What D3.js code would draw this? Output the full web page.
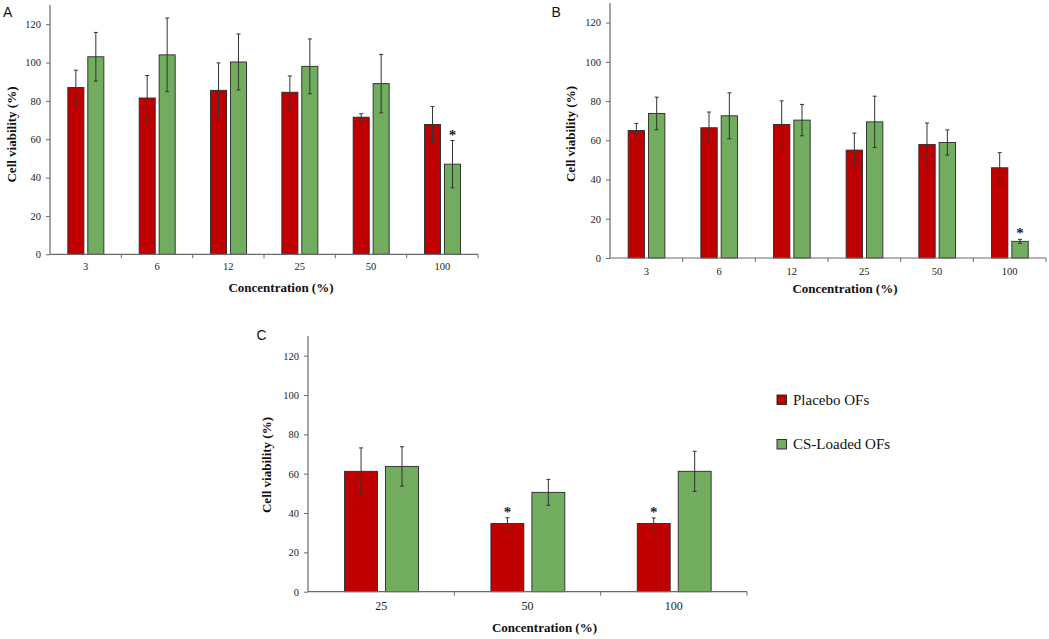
<!DOCTYPE html>
<html>
<head>
<meta charset="utf-8">
<script src="https://cdn.jsdelivr.net/npm/d3@7"></script>
<style>
  html, body { margin: 0; padding: 0; background: #fff; }
  svg { display: block; }
</style>
</head>
<body>
<svg id="chart" width="1049" height="639"></svg>
<script>
// ---------- DATA ----------
const seriesNames = ["Placebo OFs", "CS-Loaded OFs"];
const yTicks = [0, 20, 40, 60, 80, 100, 120];

// Panel A
const categoriesA = ["3", "6", "12", "25", "50", "100"];
const placeboA    = [87, 81.5, 85.5, 84.5, 71.5, 67.7];
const placeboErrA = [9, 11.7, 14.3, 8.5, 1.8, 9.4];
const loadedA     = [103, 104, 100.3, 98, 89, 47];
const loadedErrA  = [12.7, 19.2, 14.6, 14.3, 15.2, 12.3];
const placeboSigA = [false, false, false, false, false, false];
const loadedSigA  = [false, false, false, false, false, true];

// Panel B
const categoriesB = ["3", "6", "12", "25", "50", "100"];
const placeboB    = [65, 66.4, 68.1, 55, 57.9, 46];
const placeboErrB = [3.6, 8, 12, 8.7, 10.9, 7.7];
const loadedB     = [73.7, 72.5, 70.3, 69.4, 58.9, 8.5];
const loadedErrB  = [8.3, 11.7, 8, 13.1, 6.4, 1];
const placeboSigB = [false, false, false, false, false, false];
const loadedSigB  = [false, false, false, false, false, true];

// Panel C
const categoriesC = ["25", "50", "100"];
const placeboC    = [61.2, 34.7, 34.7];
const placeboErrC = [11.9, 2.9, 2.8];
const loadedC     = [63.7, 50.5, 61.2];
const loadedErrC  = [10, 6.6, 10.2];
const placeboSigC = [false, true, true];
const loadedSigC  = [false, false, false];

// ---------- STYLE / LAYOUT ----------
const colors = { "Placebo OFs": "#c00000", "CS-Loaded OFs": "#71ac5f" };
const serif = "'Liberation Serif', 'Times New Roman', serif";
const sans = "'Liberation Sans', Arial, sans-serif";
const axisColor = "#6a6a6a";

const svg = d3.select("#chart");

function panel(cfg) {
  const g = svg.append("g");
  const x = d3.scaleBand().domain(cfg.categories).range([cfg.x0, cfg.x1]).paddingInner(0).paddingOuter(0);
  const bw = x.bandwidth();
  const xs = d3.scaleBand().domain(seriesNames).range([0.25 * bw, 0.755 * bw]).paddingInner(0.196).paddingOuter(0);
  const y = d3.scaleLinear().domain([0, 130]).range([cfg.yZero, cfg.yTop]);

  const rows = [];
  cfg.categories.forEach((c, i) => {
    rows.push({ cat: c, s: seriesNames[0], v: cfg.placebo[i], e: cfg.placeboErr[i], sig: cfg.placeboSig[i] });
    rows.push({ cat: c, s: seriesNames[1], v: cfg.loaded[i], e: cfg.loadedErr[i], sig: cfg.loadedSig[i] });
  });

  // bars
  g.selectAll("rect.bar").data(rows).enter().append("rect")
    .attr("class", "bar")
    .attr("x", d => x(d.cat) + xs(d.s))
    .attr("width", xs.bandwidth())
    .attr("y", d => y(d.v))
    .attr("height", d => y(0) - y(d.v))
    .attr("fill", d => colors[d.s])
    .attr("stroke", "#2a2a2a")
    .attr("stroke-width", 0.9);

  // error bars
  const cx = d => x(d.cat) + xs(d.s) + xs.bandwidth() / 2;
  const eb = g.selectAll("g.err").data(rows).enter().append("g").attr("class", "err")
    .attr("stroke", "#333").attr("stroke-width", 1);
  eb.append("line").attr("x1", cx).attr("x2", cx).attr("y1", d => y(d.v + d.e)).attr("y2", d => y(d.v - d.e));
  eb.append("line").attr("x1", d => cx(d) - 2).attr("x2", d => cx(d) + 2).attr("y1", d => y(d.v + d.e)).attr("y2", d => y(d.v + d.e));
  eb.append("line").attr("x1", d => cx(d) - 2).attr("x2", d => cx(d) + 2).attr("y1", d => y(d.v - d.e)).attr("y2", d => y(d.v - d.e));

  // significance stars
  g.selectAll("text.star").data(rows.filter(d => d.sig)).enter().append("text")
    .attr("class", "star")
    .attr("x", cx)
    .attr("y", d => y(d.v + d.e) - 1)
    .attr("text-anchor", "middle")
    .attr("font-family", serif).attr("font-weight", "bold").attr("font-size", 15)
    .attr("fill", "#222")
    .text("*");

  // y axis
  const yAxis = d3.axisLeft(y).tickValues(yTicks).tickSize(4).tickPadding(5);
  const ya = g.append("g").attr("transform", `translate(${cfg.x0},0)`).call(yAxis)
    .attr("font-family", serif);
  ya.select(".domain").attr("stroke", axisColor).attr("stroke-width", 1.2).attr("d", `M0,${cfg.yTop}V${cfg.yZero}`);
  ya.selectAll(".tick line").attr("stroke", axisColor);
  ya.selectAll(".tick text").attr("font-family", serif).attr("font-size", 10.5).attr("fill", "#222");

  // x axis
  const xa = g.append("g").attr("transform", `translate(0,${cfg.yZero})`);
  xa.append("line").attr("x1", cfg.x0).attr("x2", cfg.x1).attr("y1", 0).attr("y2", 0)
    .attr("stroke", axisColor).attr("stroke-width", 1.2);
  const bounds = cfg.categories.map(c => x(c)).concat([x(cfg.categories[cfg.categories.length - 1]) + bw]);
  xa.selectAll("line.xt").data(bounds.slice(1)).enter().append("line").attr("class", "xt")
    .attr("x1", d => d).attr("x2", d => d).attr("y1", 0).attr("y2", 4)
    .attr("stroke", axisColor);
  xa.selectAll("text.xl").data(cfg.categories).enter().append("text").attr("class", "xl")
    .attr("x", d => x(d) + bw / 2).attr("y", cfg.xLabelDy)
    .attr("text-anchor", "middle")
    .attr("font-family", serif).attr("font-size", cfg.xFont).attr("fill", "#222")
    .text(d => d);

  // titles
  g.append("text")
    .attr("x", (cfg.x0 + cfg.x1) / 2 + 17).attr("y", cfg.yZero + cfg.xTitleDy)
    .attr("text-anchor", "middle")
    .attr("font-family", serif).attr("font-weight", "bold").attr("font-size", 13).attr("fill", "#111")
    .text("Concentration (%)");
  g.append("text")
    .attr("transform", `translate(${cfg.yTitleX},${cfg.yTitleY}) rotate(-90)`)
    .attr("text-anchor", "middle").attr("dominant-baseline", "central")
    .attr("font-family", serif).attr("font-weight", "bold").attr("font-size", 13).attr("fill", "#111")
    .text("Cell viability (%)");
  g.append("text")
    .attr("x", cfg.letterX).attr("y", cfg.letterY)
    .attr("font-family", sans).attr("font-size", 14).attr("fill", "#111")
    .text(cfg.letter);
}

panel({
  letter: "A", letterX: 3, letterY: 17,
  categories: categoriesA, placebo: placeboA, placeboErr: placeboErrA, loaded: loadedA, loadedErr: loadedErrA,
  placeboSig: placeboSigA, loadedSig: loadedSigA,
  x0: 50, x1: 478, yZero: 254.3, yTop: 5,
  xLabelDy: 15.5, xFont: 10.5, xTitleDy: 38, yTitleX: 11.7, yTitleY: 134.5
});
panel({
  letter: "B", letterX: 551.5, letterY: 17,
  categories: categoriesB, placebo: placeboB, placeboErr: placeboErrB, loaded: loadedB, loadedErr: loadedErrB,
  placeboSig: placeboSigB, loadedSig: loadedSigB,
  x0: 610, x1: 1046, yZero: 258, yTop: 3,
  xLabelDy: 17, xFont: 10.5, xTitleDy: 35, yTitleX: 570, yTitleY: 134
});
panel({
  letter: "C", letterX: 256.5, letterY: 340,
  categories: categoriesC, placebo: placeboC, placeboErr: placeboErrC, loaded: loadedC, loadedErr: loadedErrC,
  placeboSig: placeboSigC, loadedSig: loadedSigC,
  x0: 308, x1: 747, yZero: 591.7, yTop: 336,
  xLabelDy: 18, xFont: 12, xTitleDy: 40, yTitleX: 266.7, yTitleY: 465
});

// legend
const legend = svg.append("g").attr("transform", "translate(777,395)");
const li = legend.selectAll("g").data(seriesNames).enter().append("g")
  .attr("transform", (d, i) => `translate(0,${i * 44.5})`);
li.append("rect").attr("width", 9.5).attr("height", 9.5)
  .attr("fill", d => colors[d]).attr("stroke", "#222").attr("stroke-width", 0.9);
li.append("text").attr("x", 16).attr("y", 9.5)
  .attr("font-family", serif).attr("font-size", 15).attr("fill", "#111")
  .text(d => d);
</script>
</body>
</html>
